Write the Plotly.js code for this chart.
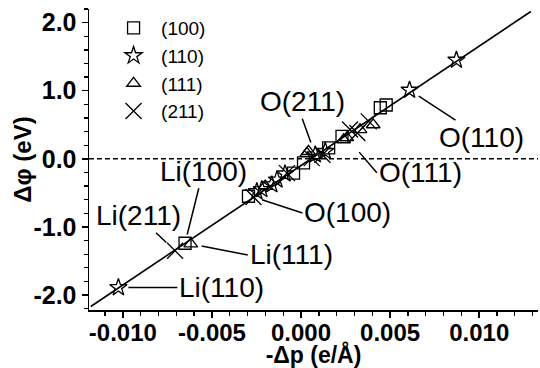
<!DOCTYPE html>
<html>
<head>
<meta charset="utf-8">
<script src="https://cdn.plot.ly/plotly-3.0.1.min.js"></script>
<style>
  html, body { margin: 0; padding: 0; background: #fff; }
  #chart { width: 540px; height: 368px; }
</style>
</head>
<body>
<div id="chart"></div>
<script>
// ── data ──────────────────────────────────────────────────
const sqX   = [-0.00651, -0.00295, -0.00042, 0.00014, 0.00155, 0.00230, 0.00445, 0.00478];
const sqY   = [-1.24, -0.55, -0.21, -0.06, 0.16, 0.33, 0.75, 0.79];

const starX = [-0.01025, -0.00248, -0.00220, -0.00164, -0.00135, -0.00090, 0.00080, 0.00136, 0.00609, 0.00872];
const starY = [-1.89, -0.48, -0.45, -0.38, -0.31, -0.22, 0.06, 0.11, 1.01, 1.45];

const triX  = [-0.00619, -0.00201, 0.00033, 0.00042, 0.00239, 0.00257, 0.00331, 0.00405];
const triY  = [-1.25, -0.40, 0.08, 0.11, 0.28, 0.31, 0.43, 0.50];

const crossX = [-0.00707, -0.00267, -0.00079, 0.00060, 0.00120, 0.00275, 0.00316, 0.00380];
const crossY = [-1.35, -0.56, -0.21, 0.01, 0.06, 0.43, 0.38, 0.55];

// linear fit drawn across the frame
const fitSlope = 175.4;
const fitIntercept = -0.099;
const fitX = [-0.0118, 0.0129];
const fitY = fitX.map(x => fitSlope * x + fitIntercept);

const xTickVals = [-0.010, -0.005, 0, 0.005, 0.010];
const xTickText = ['-0.010', '-0.005', '0.000', '0.005', '0.010'];
const yTickVals = [-2, -1, 0, 1, 2];
const yTickText = ['-2.0', '-1.0', '0.0', '1.0', '2.0'];

// ── style ─────────────────────────────────────────────────
const FONT = 'Liberation Sans, Arial, sans-serif';
const MLINE = { color: '#000', width: 1.3 };

const axisBase = {
  showline: true, linecolor: '#000', linewidth: 1.5,
  showgrid: false, zeroline: false,
  ticks: 'outside', ticklen: 6, tickwidth: 1.5, tickcolor: '#000',
  tickmode: 'array',
  tickfont: { family: FONT, size: 25, color: '#000', weight: 'bold' },
};

const traces = [
  {
    x: fitX, y: fitY, mode: 'lines', showlegend: false, hoverinfo: 'skip',
    line: { color: '#000', width: 1.6 },
  },
  {
    x: sqX, y: sqY, mode: 'markers', name: '(100)',
    marker: { symbol: 'square-open', size: 12, color: '#000', line: MLINE },
  },
  {
    x: starX, y: starY, mode: 'markers', name: '(110)',
    marker: { symbol: 'star-open', size: 13, color: '#000', line: MLINE },
  },
  {
    x: triX, y: triY, mode: 'markers', name: '(111)',
    marker: { symbol: 'triangle-up-open', size: 12, color: '#000', line: MLINE },
  },
  {
    x: crossX, y: crossY, mode: 'markers', name: '(211)',
    marker: { symbol: 'x-thin-open', size: 16, color: '#000', line: MLINE },
  },
];

// pointer labels
const ann = (text, x, y, ax, ay, standoff, xanchor = 'center', yanchor = 'middle') => ({
  text, x, y, ax, ay, standoff, xanchor, yanchor,
  showarrow: true, arrowhead: 0, arrowwidth: 1.5, arrowcolor: '#000',
  font: { family: FONT, size: 28, color: '#000' },
});

const annotations = [
  ann('Li(110)', starX[0], starY[0], 59, 0, 10, 'left'),
  ann('Li(111)', triX[0], triY[0], 57, 11, 11, 'left'),
  ann('Li(211)', crossX[0], crossY[0], -37, -35, 12),
  ann('Li(100)', sqX[0], sqY[0], 18, -72, 9),
  ann('O(100)', crossX[1], crossY[1], 49, 16, 9, 'left'),
  ann('O(211)', starX[6], starY[6], -13, -36, 13, 'center', 'bottom'),
  ann('O(111)', triX[5], triY[5], 30, 35, 19, 'left'),
  ann('O(110)', starX[8], starY[8], 72, 47, 11),
];

const layout = {
  width: 540, height: 368,
  margin: { l: 89, r: 2, t: 9, b: 58 },
  paper_bgcolor: '#fff', plot_bgcolor: '#fff',
  font: { family: FONT, color: '#000' },
  xaxis: {
    ...axisBase,
    range: [-0.0119, 0.0133],
    tickvals: xTickVals, ticktext: xTickText,
    tickfont: { ...axisBase.tickfont, size: 24 },
    ticklabelstandoff: -5,
    minor: { tickmode: 'linear', tick0: 0, dtick: 0.001, ticks: 'outside', ticklen: 4, tickwidth: 1.3, tickcolor: '#000' },
    title: { text: '-Δp (e/Å)', font: { family: FONT, size: 23, weight: 'bold', color: '#000' } },
  },
  yaxis: {
    ...axisBase,
    range: [-2.22, 2.2],
    tickvals: yTickVals, ticktext: yTickText,
    minor: { tickmode: 'linear', tick0: 0, dtick: 0.2, ticks: 'outside', ticklen: 4, tickwidth: 1.3, tickcolor: '#000' },
    title: { text: 'Δφ (eV)', font: { family: FONT, size: 24, weight: 'bold', color: '#000' } },
  },
  shapes: [{
    type: 'line', xref: 'paper', yref: 'y', x0: 0, x1: 1, y0: 0, y1: 0,
    line: { color: '#000', width: 1.5, dash: '5px,3px' },
  }],
  legend: {
    x: 0.038, y: 1, xanchor: 'left', yanchor: 'top',
    bgcolor: 'rgba(0,0,0,0)', itemwidth: 45, tracegroupgap: 0,
    font: { family: FONT, size: 19, color: '#000' },
  },
  annotations,
  showlegend: true,
};

Plotly.newPlot('chart', traces, layout, { displayModeBar: false, responsive: false, staticPlot: true });
</script>
</body>
</html>
